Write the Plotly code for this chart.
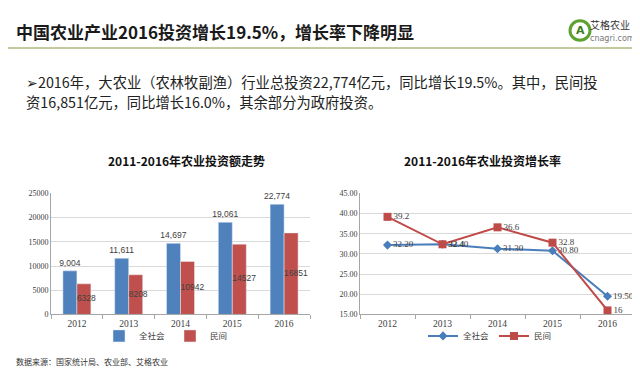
import plotly.graph_objects as go

W, H = 640, 369
def px(x): return x / W
def py(y): return 1 - y / H

years = ["2012", "2013", "2014", "2015", "2016"]
total_invest = [9004, 11611, 14697, 19061, 22774]
private_invest = [6328, 8208, 10942, 14527, 16851]
total_growth = [32.20, 32.40, 31.30, 30.80, 19.50]
private_growth = [39.2, 32.4, 36.6, 32.8, 16]
private_growth_labels = ["39.2", "32.4", "36.6", "32.8", "16"]

BLUE = "#4F81BD"
RED = "#C0504D"
LBLUE = "#4A7EBB"
LRED = "#BE4B48"
GRID = "#D9D9D9"
AXIS = "#A6A6A6"
CJK = "Noto Sans CJK SC"
SERIF = "Liberation Serif"
LBLFONT = dict(size=8.5, color="#404040", family="Liberation Sans")
LINEFONT = dict(size=9, color="#404040", family=SERIF)

fig = go.Figure()

# Left: bars
fig.add_trace(go.Bar(
    x=years, y=total_invest, name="全社会", marker_color=BLUE,
    text=[f"{v:,}" for v in total_invest], textposition="outside",
    textfont=LBLFONT, constraintext="none",
    cliponaxis=False, xaxis="x", yaxis="y", legend="legend"))
fig.add_trace(go.Bar(
    x=years, y=private_invest, name="民间", marker_color=RED,
    xaxis="x", yaxis="y", legend="legend"))
fig.add_trace(go.Scatter(
    x=years, y=[v / 2 for v in private_invest], mode="text",
    text=[str(v) for v in private_invest], textposition="middle right",
    textfont=LBLFONT,
    showlegend=False, hoverinfo="skip", xaxis="x", yaxis="y"))

# Right: lines
fig.add_trace(go.Scatter(
    x=years, y=total_growth, name="全社会", mode="lines+markers+text",
    line=dict(color=LBLUE, width=2), marker=dict(symbol="diamond", size=7, color=LBLUE),
    text=[f"{v:.2f}" for v in total_growth], textposition="middle right",
    textfont=LINEFONT,
    cliponaxis=False, xaxis="x2", yaxis="y2", legend="legend2"))
fig.add_trace(go.Scatter(
    x=years, y=private_growth, name="民间", mode="lines+markers+text",
    line=dict(color=LRED, width=2), marker=dict(symbol="square", size=8, color=LRED),
    text=private_growth_labels, textposition="middle right",
    textfont=LINEFONT,
    cliponaxis=False, xaxis="x2", yaxis="y2", legend="legend2"))

ytick = dict(size=8, color="#404040", family=SERIF)
xtick = dict(size=9.5, color="#404040", family=SERIF)

fig.update_layout(
    width=W, height=H, margin=dict(l=0, r=0, t=0, b=0),
    paper_bgcolor="white", plot_bgcolor="white",
    barmode="group", bargap=0.46, bargroupgap=0,
    font=dict(family=CJK, color="#333"),
    xaxis=dict(domain=[px(43), px(302)], anchor="y", type="category", range=[-0.5, 4.5],
               ticks="outside", tickson="boundaries", ticklen=4, tickcolor=AXIS,
               showgrid=False, showline=True, linecolor=AXIS, tickfont=xtick),
    yaxis=dict(domain=[py(310), py(186)], anchor="x", range=[0, 25000], dtick=5000,
               showgrid=True, gridcolor=GRID, ticks="", zeroline=False,
               tickformat="d", showline=True, linecolor=AXIS, tickfont=ytick),
    xaxis2=dict(domain=[px(352), px(627)], anchor="y2", type="category", range=[-0.5, 4.5],
                ticks="outside", tickson="boundaries", ticklen=4, tickcolor=AXIS,
                showgrid=False, showline=True, linecolor=AXIS, tickfont=xtick),
    yaxis2=dict(domain=[py(310), py(186)], anchor="x2", range=[15, 45], dtick=5,
                showgrid=True, gridcolor=GRID, ticks="", zeroline=False,
                tickformat=".2f", showline=True, linecolor=AXIS, tickfont=ytick),
    legend=dict(orientation="h", x=px(158), y=py(332), xanchor="center", yanchor="middle",
                font=dict(size=8.5, color="#404040"), itemwidth=30, bgcolor="rgba(0,0,0,0)"),
    legend2=dict(orientation="h", x=px(482), y=py(332), xanchor="center", yanchor="middle",
                 font=dict(size=8.5, color="#404040"), itemwidth=30, bgcolor="rgba(0,0,0,0)"),
)

ann = []
ann.append(dict(x=px(6), y=py(20), xref="paper", yref="paper", xanchor="left", yanchor="middle",
                text="<b>中国农业产业2016投资增长19.5%，增长率下降明显</b>", showarrow=False,
                font=dict(size=17, color="#1a1a1a", family=CJK)))
ann.append(dict(x=px(16), y=py(71), xref="paper", yref="paper", xanchor="left", yanchor="middle",
                text="➢2016年，大农业（农林牧副渔）行业总投资22,774亿元，同比增长19.5%。其中，民间投",
                showarrow=False, font=dict(size=14.3, color="#222", family=CJK)))
ann.append(dict(x=px(16), y=py(92), xref="paper", yref="paper", xanchor="left", yanchor="middle",
                text="资16,851亿元，同比增长16.0%，其余部分为政府投资。",
                showarrow=False, font=dict(size=14.3, color="#222", family=CJK)))
ann.append(dict(x=px(178), y=py(152), xref="paper", yref="paper", xanchor="center", yanchor="middle",
                text="<b>2011-2016年农业投资额走势</b>", showarrow=False,
                font=dict(size=12, color="#111", family=CJK)))
ann.append(dict(x=px(474), y=py(152), xref="paper", yref="paper", xanchor="center", yanchor="middle",
                text="<b>2011-2016年农业投资增长率</b>", showarrow=False,
                font=dict(size=12, color="#111", family=CJK)))
ann.append(dict(x=px(6), y=py(358), xref="paper", yref="paper", xanchor="left", yanchor="middle",
                text="数据来源：国家统计局、农业部、艾格农业", showarrow=False,
                font=dict(size=8, color="#333", family=CJK)))
# logo
ann.append(dict(x=px(572), y=py(19), xref="paper", yref="paper", xanchor="center", yanchor="middle",
                text="<b>A</b>", showarrow=False, font=dict(size=11, color="#3E7F1E", family="DejaVu Sans")))
ann.append(dict(x=px(580), y=py(13), xref="paper", yref="paper", xanchor="left", yanchor="middle",
                text="艾格农业", showarrow=False, font=dict(size=10, color="#333", family=CJK)))
ann.append(dict(x=px(580), y=py(27), xref="paper", yref="paper", xanchor="left", yanchor="middle",
                text="cnagri.com", showarrow=False, font=dict(size=8, color="#777", family="DejaVu Sans")))
fig.update_layout(annotations=ann)

fig.update_layout(shapes=[
    dict(type="line", xref="paper", yref="paper", x0=0, x1=1, y0=py(37), y1=py(37),
         line=dict(color="#C3CB9E", width=2)),
    dict(type="circle", xref="paper", yref="paper", x0=px(562), x1=px(582), y0=py(29), y1=py(9),
         line=dict(color="#5DA130", width=3)),
])

fig.write_html("out.html")
